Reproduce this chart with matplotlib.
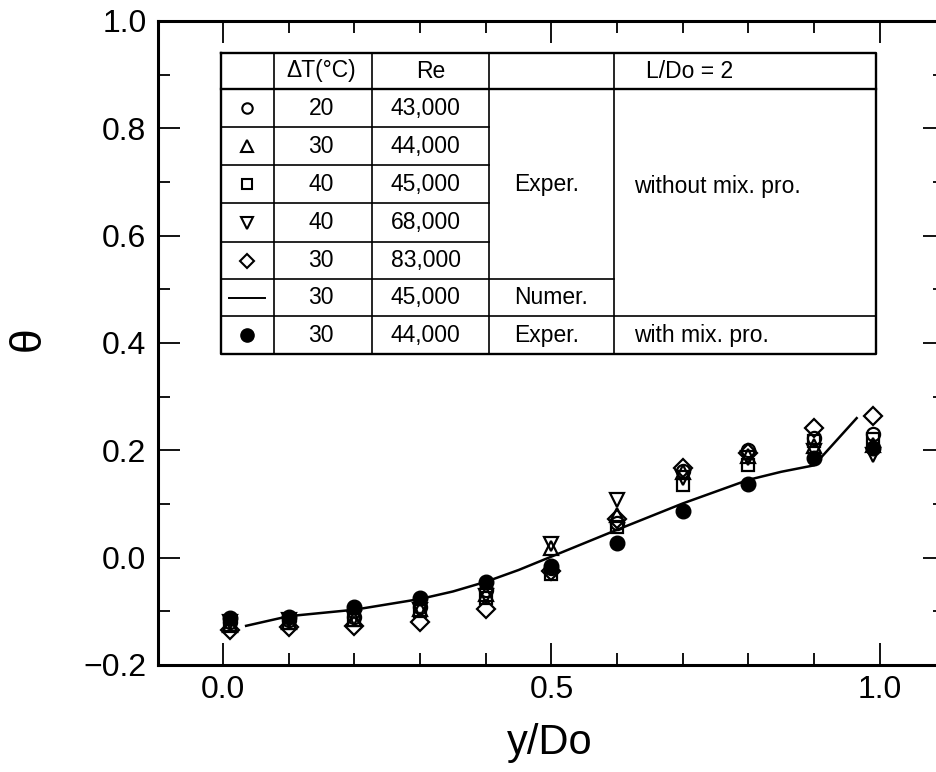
import matplotlib
matplotlib.use('Agg')
import matplotlib.pyplot as plt
from matplotlib.ticker import MultipleLocator, FixedLocator

plt.rcParams['font.family'] = ['Liberation Sans', 'DejaVu Sans']

# ---------------- data ----------------
x_exp = [0.01, 0.10, 0.20, 0.30, 0.40, 0.50, 0.60, 0.70, 0.80, 0.90, 0.99]
theta_dt20_re43k = [-0.120, -0.117, -0.110, -0.092, -0.061, -0.020, 0.065, 0.161, 0.200, 0.223, 0.230]
theta_dt30_re44k = [-0.125, -0.120, -0.114, -0.095, -0.067, 0.018, 0.080, 0.160, 0.190, 0.208, 0.210]
theta_dt40_re45k = [-0.125, -0.122, -0.117, -0.100, -0.076, -0.030, 0.058, 0.135, 0.172, 0.217, 0.222]
theta_dt40_re68k = [-0.120, -0.117, -0.112, -0.098, -0.072, 0.025, 0.107, 0.148, 0.185, 0.198, 0.192]
theta_dt30_re83k = [-0.135, -0.129, -0.128, -0.119, -0.095, -0.025, 0.072, 0.167, 0.195, 0.242, 0.264]
theta_mix_dt30_re44k = [-0.113, -0.110, -0.092, -0.076, -0.045, -0.015, 0.027, 0.087, 0.137, 0.185, 0.205]

x_num = [0.035, 0.10, 0.20, 0.30, 0.35, 0.40, 0.45, 0.50, 0.60, 0.70, 0.80, 0.85, 0.90, 0.965]
theta_num = [-0.127, -0.109, -0.097, -0.077, -0.063, -0.045, -0.023, 0.002, 0.052, 0.101, 0.145, 0.160, 0.172, 0.260]

dt_labels = ['20', '30', '40', '40', '30', '30', '30']
re_labels = ['43,000', '44,000', '45,000', '68,000', '83,000', '45,000', '44,000']
method_labels = ['Exper.', 'Numer.', 'Exper.']
cond_labels = ['without mix. pro.', 'with mix. pro.']
x_ticks = [0.0, 0.5, 1.0]
y_ticks = [-0.2, 0.0, 0.2, 0.4, 0.6, 0.8, 1.0]

# ---------------- figure ----------------
W, H = 936, 772
fig = plt.figure(figsize=(W / 100, H / 100), dpi=100)
ax = fig.add_axes([157.5 / W, 1 - 665 / H, 787.8 / W, 644 / H])
ax.set_xlim(-0.1, 1.1)
ax.set_ylim(-0.2, 1.0)

ax.plot(x_num, theta_num, color='k', lw=1.8, zorder=3)
open_series = [
    (theta_dt20_re43k, 'o', 9.5),
    (theta_dt30_re44k, '^', 10.5),
    (theta_dt40_re45k, 's', 8.5),
    (theta_dt40_re68k, 'v', 10.5),
    (theta_dt30_re83k, 'D', 8.8),
]
for ys, m, ms in open_series:
    ax.plot(x_exp, ys, linestyle='none', marker=m, ms=ms, mfc='none',
            mec='k', mew=1.6, zorder=4)
ax.plot(x_exp, theta_mix_dt30_re44k, linestyle='none', marker='o', ms=10.5,
        mfc='k', mec='k', zorder=5)

for s in ax.spines.values():
    s.set_linewidth(2.2)
ax.xaxis.set_major_locator(FixedLocator(x_ticks))
ax.xaxis.set_minor_locator(MultipleLocator(0.1))
ax.yaxis.set_major_locator(FixedLocator(y_ticks))
ax.yaxis.set_minor_locator(MultipleLocator(0.1))
ax.set_xticklabels([f'{v:.1f}' for v in x_ticks])
ax.set_yticklabels([f'{v:.1f}'.replace('-', '\u2212') for v in y_ticks])
ax.tick_params(which='both', direction='in', top=True, right=True, width=1.3)
ax.tick_params(which='major', length=16, labelsize=23)
ax.tick_params(which='minor', length=8.5)
ax.tick_params(axis='x', which='major', pad=7)
ax.tick_params(axis='y', which='major', pad=8)

ax.set_xlabel('y/Do', fontsize=30)
ax.xaxis.set_label_coords((550 - 157.5) / 787.8, (665 - 743) / 644)
ax.xaxis.label.set_va('center')
ax.set_ylabel('θ', fontsize=32, rotation=90, va='center', ha='center')
ax.yaxis.set_label_coords((28 - 157.5) / 787.8, (665 - 339) / 644)

# ---------------- table ----------------
TW, TH = 655.0, 301.3
tab = fig.add_axes([220.7 / W, 1 - 354 / H, TW / W, TH / H])
tab.set_xlim(0, TW)
tab.set_ylim(TH, 0)
tab.axis('off')
col_x = [0, 53.3, 151.6, 268.6, 393.6, TW]
row_y = [0, 36.6, 74.6, 112.3, 150.6, 189.0, 226.6, 263.3, TH]
lw_o, lw_i = 1.7, 1.2
kw = dict(color='k', clip_on=False, solid_capstyle='projecting')
tab.plot([0, TW, TW, 0, 0], [0, 0, TH, TH, 0], lw=lw_o, **kw)
for xv in col_x[1:-1]:
    tab.plot([xv, xv], [0, TH], lw=lw_i, **kw)
tab.plot([0, TW], [row_y[1], row_y[1]], lw=lw_o, **kw)
for yv in row_y[2:6]:
    tab.plot([0, col_x[3]], [yv, yv], lw=lw_i, **kw)
tab.plot([0, col_x[4]], [row_y[6], row_y[6]], lw=lw_i, **kw)
tab.plot([0, TW], [row_y[7], row_y[7]], lw=lw_i, **kw)

fs = 16.5
rc = [(row_y[i] + row_y[i + 1]) / 2 for i in range(len(row_y) - 1)]
c1 = (col_x[1] + col_x[2]) / 2 - 2
c2 = (col_x[2] + col_x[3]) / 2 - 5
tab.text(c1, rc[0], 'ΔT(°C)', ha='center', va='center', fontsize=fs)
tab.text(c2 + 5, rc[0], 'Re', ha='center', va='center', fontsize=fs)
tab.text(425, rc[0], 'L/Do = 2', ha='left', va='center', fontsize=fs)
for i in range(7):
    tab.text(c1, rc[i + 1], dt_labels[i], ha='center', va='center', fontsize=fs)
    tab.text(c2, rc[i + 1], re_labels[i], ha='center', va='center', fontsize=fs)
tab.text(293, 131.6, method_labels[0], ha='left', va='center', fontsize=fs)
tab.text(293, rc[6], method_labels[1], ha='left', va='center', fontsize=fs)
tab.text(293, rc[7], method_labels[2], ha='left', va='center', fontsize=fs)
tab.text(413, 134, cond_labels[0], ha='left', va='center', fontsize=fs)
tab.text(413, rc[7], cond_labels[1], ha='left', va='center', fontsize=fs)

c0 = col_x[1] / 2
tab_markers = [('o', 7.5), ('^', 9), ('s', 7), ('v', 9), ('D', 7)]
for i, (m, ms) in enumerate(tab_markers):
    tab.plot([c0], [rc[i + 1]], marker=m, ms=ms, mfc='none', mec='k', mew=1.5,
             linestyle='none', clip_on=False)
tab.plot([8.6, 44], [rc[6], rc[6]], color='k', lw=1.4, clip_on=False)
tab.plot([c0], [rc[7]], marker='o', ms=9.5, mfc='k', mec='k', linestyle='none',
         clip_on=False)

fig.savefig('out.png', dpi=100)
